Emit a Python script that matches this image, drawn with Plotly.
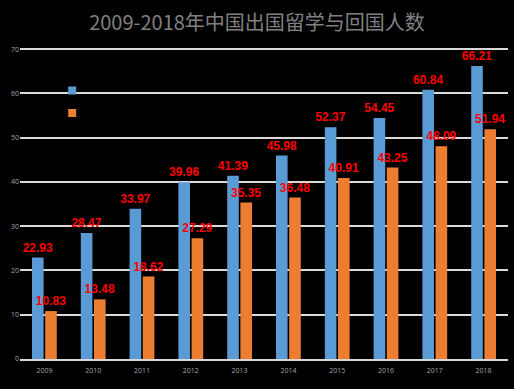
import plotly.graph_objects as go

years = ["2009", "2010", "2011", "2012", "2013", "2014", "2015", "2016", "2017", "2018"]
out_values = [22.93, 28.47, 33.97, 39.96, 41.39, 45.98, 52.37, 54.45, 60.84, 66.21]
back_values = [10.83, 13.48, 18.62, 27.29, 35.35, 36.48, 40.91, 43.25, 48.09, 51.94]
series_names = ["出国留学人数", "回国人数"]
colors = ["#5B9BD5", "#ED7D31"]
y_ticks = [0, 10, 20, 30, 40, 50, 60, 70]

fig = go.Figure()
for name, vals, color in zip(series_names, [out_values, back_values], colors):
    fig.add_trace(go.Bar(
        x=years, y=vals, name=name, marker=dict(color=color, line=dict(width=0)),
        text=[f"{v:.2f}" for v in vals], textposition="outside", textangle=0,
        textfont=dict(color="#FF0000", size=12, family="Liberation Sans, Arial", weight="bold"),
        cliponaxis=False, showlegend=False,
    ))
# legend entries (small square markers; the legend text is dark/invisible in the reference)
for name, color in zip(series_names, colors):
    fig.add_trace(go.Scatter(
        x=[None], y=[None], mode="markers", name=name,
        marker=dict(symbol="square", size=8, color=color), showlegend=True,
    ))

fig.update_layout(
    width=514, height=389,
    paper_bgcolor="#000000", plot_bgcolor="#000000",
    margin=dict(l=20, r=6, t=47, b=30),
    title=dict(text="2009-2018年中国出国留学与回国人数", x=0.5, xanchor="center", y=0.94, yanchor="middle",
               font=dict(size=20, color="#808080", family="Noto Sans CJK SC")),
    barmode="group", bargap=0.46, bargroupgap=0.12,
    uniformtext=dict(minsize=6, mode="show"),
    legend=dict(x=0.066, y=0.913, xanchor="left", yanchor="top", bgcolor="rgba(0,0,0,0)",
                font=dict(color="rgba(0,0,0,0)", size=15), tracegroupgap=0),
    xaxis=dict(showgrid=False, showline=True, linecolor="#d9d9d9", linewidth=1.5,
               tickfont=dict(size=7, color="#a6a6a6"), ticks="", ticklabelstandoff=4),
    yaxis=dict(range=[0, 70.5], tickvals=y_ticks, showgrid=True,
               gridcolor="#d9d9d9", gridwidth=1.5,
               zeroline=False, tickfont=dict(size=7, color="#a6a6a6"), ticks=""),
)

fig.write_html("out.html", config={"displayModeBar": False},
               post_script="document.body.style.margin='0';document.body.style.background='#000';")
